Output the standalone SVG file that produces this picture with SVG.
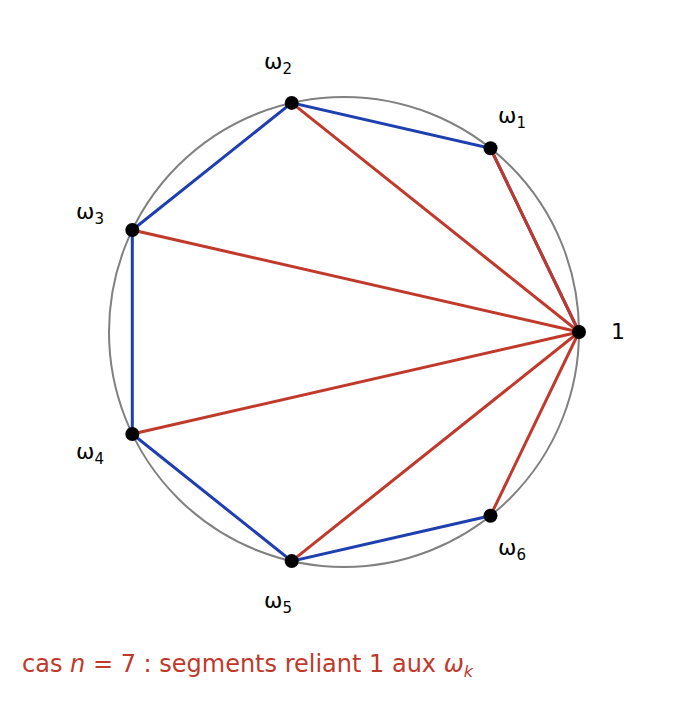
<svg xmlns="http://www.w3.org/2000/svg" width="687" height="723" viewBox="0 0 687 723">
<style>
.b{stroke:#1f3fb0;stroke-width:3;fill:none}
.r{stroke:#c0392b;stroke-width:3;fill:none}
.lbl{font-family:"DejaVu Sans",sans-serif;font-size:22px;fill:#000}
.sub{font-size:15px}
</style>
<rect width="687" height="723" fill="#fff"/>
<circle cx="344" cy="332" r="235" fill="none" stroke="#808080" stroke-width="2"/>
<g id="connectors">
<polyline class="b" points="579,332 490.5,148.3 291.7,102.9 132.3,230 132.3,434 291.7,561.1 490.5,515.7"/>
<line class="r" x1="579" y1="332" x2="490.5" y2="148.3"/>
<line class="r" x1="579" y1="332" x2="291.7" y2="102.9"/>
<line class="r" x1="579" y1="332" x2="132.3" y2="230"/>
<line class="r" x1="579" y1="332" x2="132.3" y2="434"/>
<line class="r" x1="579" y1="332" x2="291.7" y2="561.1"/>
<line class="r" x1="579" y1="332" x2="490.5" y2="515.7"/>
</g>
<g id="n0"><circle cx="579" cy="332" r="7"/><text class="lbl" x="611" y="339" font-size="24">1</text></g>
<g id="n1"><circle cx="490.5" cy="148.3" r="7"/><text class="lbl" x="498" y="123">ω<tspan class="sub" dy="5">1</tspan></text></g>
<g id="n2"><circle cx="291.7" cy="102.9" r="7"/><text class="lbl" x="264" y="69">ω<tspan class="sub" dy="5">2</tspan></text></g>
<g id="n3"><circle cx="132.3" cy="230" r="7"/><text class="lbl" x="76" y="219">ω<tspan class="sub" dy="5">3</tspan></text></g>
<g id="n4"><circle cx="132.3" cy="434" r="7"/><text class="lbl" x="76" y="459">ω<tspan class="sub" dy="5">4</tspan></text></g>
<g id="n5"><circle cx="291.7" cy="561.1" r="7"/><text class="lbl" x="264" y="608">ω<tspan class="sub" dy="5">5</tspan></text></g>
<g id="n6"><circle cx="490.5" cy="515.7" r="7"/><text class="lbl" x="498" y="555">ω<tspan class="sub" dy="5">6</tspan></text></g>
<text x="22" y="672" font-family="DejaVu Sans,sans-serif" font-size="24" fill="#c0392b">cas <tspan font-style="italic">n</tspan> = 7 : segments reliant 1 aux <tspan font-style="italic">ω</tspan><tspan font-style="italic" font-size="16" dy="5">k</tspan></text>
</svg>
